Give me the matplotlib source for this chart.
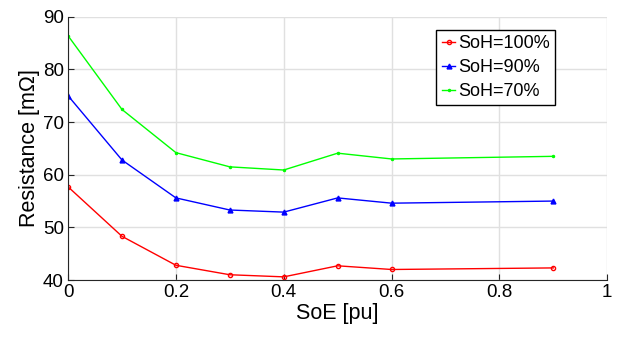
import numpy as np
import matplotlib.pyplot as plt

plt.rcParams['font.family'] = ['Liberation Sans', 'DejaVu Sans']

soe = [0, 0.1, 0.2, 0.3, 0.4, 0.5, 0.6, 0.9]
r_soh100 = [57.7, 48.3, 42.8, 41.0, 40.6, 42.7, 42.0, 42.3]
r_soh90 = [75.0, 62.8, 55.6, 53.3, 52.9, 55.6, 54.6, 55.0]
r_soh70 = [86.4, 72.4, 64.2, 61.5, 60.9, 64.1, 63.0, 63.5]

fig = plt.figure(figsize=(6.19, 3.44), dpi=100)
ax = fig.add_axes([0.110, 0.186, 0.871, 0.765])

ax.plot(soe, r_soh100, color='#ff0000', marker='o', markersize=3, mfc='none', lw=1, label='SoH=100%')
ax.plot(soe, r_soh90, color='#0000ff', marker='^', markersize=3.5, lw=1, label='SoH=90%')
ax.plot(soe, r_soh70, color='#00ff00', marker='.', markersize=3, lw=1, label='SoH=70%')

ax.set_xlim(0, 1)
ax.set_ylim(40, 90)
ax.set_xticks([0, 0.2, 0.4, 0.6, 0.8, 1])
ax.set_xticklabels(['0', '0.2', '0.4', '0.6', '0.8', '1'])
ax.set_yticks([40, 50, 60, 70, 80, 90])
ax.grid(True, color='#e0e0e0', lw=1)
ax.set_axisbelow(True)
ax.tick_params(direction='in', labelsize=13.5, length=4, color='#262626', pad=3)
for s in ['top', 'right']:
    ax.spines[s].set_visible(False)
for s in ['left', 'bottom']:
    ax.spines[s].set_color('#262626')

ax.set_xlabel('SoE [pu]', fontsize=15.5, labelpad=1)
ax.set_ylabel('Resistance [mΩ]', fontsize=15.5, labelpad=2)

leg = ax.legend(loc='upper right', bbox_to_anchor=(0.9035, 0.9506), fontsize=13, fancybox=False,
                edgecolor='black', framealpha=1, handlelength=0.75, handletextpad=0.15,
                borderpad=0.3, labelspacing=0.38, borderaxespad=0)
leg.get_frame().set_linewidth(1)

fig.savefig('out.png', dpi=100)
